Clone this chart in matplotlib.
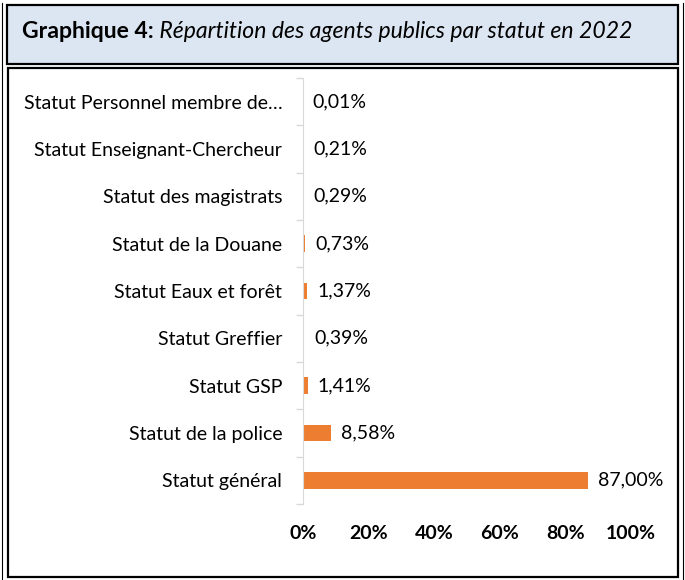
import numpy as np
import matplotlib.pyplot as plt
from matplotlib.patches import Rectangle
from matplotlib.lines import Line2D
from matplotlib.text import Annotation

plt.rcParams['font.family'] = ['Lato', 'DejaVu Sans']

# Données (de haut en bas)
statuts = ['Statut Personnel membre de…', 'Statut Enseignant-Chercheur',
           'Statut des magistrats', 'Statut de la Douane',
           'Statut Eaux et forêt', 'Statut Greffier', 'Statut GSP',
           'Statut de la police', 'Statut général']
valeurs = [0.01, 0.21, 0.29, 0.73, 1.37, 0.39, 1.41, 8.58, 87.00]
graduations = [0, 20, 40, 60, 80, 100]

W, H = 685, 580
fig = plt.figure(figsize=(W / 100, H / 100), dpi=100)

def px(x, y):
    return x / W, 1 - y / H

# Cadre du titre (style tableau Word)
x0, y0 = px(7, 64)
fig.add_artist(Rectangle((x0, y0), (678 - 7) / W, (64 - 5) / H,
                         transform=fig.transFigure, facecolor='#DCE6F2',
                         edgecolor='black', linewidth=1.6, zorder=-2))
x0, y0 = px(8, 577)
fig.add_artist(Rectangle((x0, y0), (678 - 8) / W, (577 - 68) / H,
                         transform=fig.transFigure, facecolor='white',
                         edgecolor='black', linewidth=1.6, zorder=-2))
for xl in [2, 683]:
    fig.add_artist(Line2D([xl / W, xl / W], [0, 1 - 3 / H],
                          transform=fig.transFigure, color='black', linewidth=0.8))

# Titre
t1 = fig.text(22 / W, 1 - 38 / H, 'Graphique 4:', fontsize=16.6, fontweight='bold',
              va='baseline', ha='left')
fig.add_artist(Annotation(' Répartition des agents publics par statut en 2022', xy=(1, 0),
                          xycoords=t1, fontsize=16.6, style='italic',
                          va='bottom', ha='left', annotation_clip=False))

# Graphique
l, b = px(303, 504)
r, t = px(631, 78)
ax = fig.add_axes([l, b, r - l, t - b])
y = np.arange(len(statuts))[::-1]
ax.barh(y, valeurs, height=0.35, color='#ED7D31')
for yi, v in zip(y, valeurs):
    ax.annotate(f'{v:.2f}%'.replace('.', ','), xy=(v, yi), xytext=(7, 0),
                textcoords='offset points', va='center', ha='left', fontsize=14)

ax.set_xlim(0, 100)
ax.set_ylim(-0.5, len(statuts) - 0.5)
ax.set_yticks(y)
ax.set_yticklabels(statuts, fontsize=14)
ax.set_yticks(np.arange(-0.5, len(statuts)), minor=True)
ax.tick_params(axis='y', which='major', length=0, pad=15)
ax.tick_params(axis='y', which='minor', length=5, color='#D9D9D9', width=1)
ax.set_xticks(graduations)
ax.set_xticklabels([f'{g}%' for g in graduations], fontsize=14, fontweight='bold')
ax.tick_params(axis='x', length=0, pad=15)
for s in ['top', 'right', 'bottom']:
    ax.spines[s].set_visible(False)
ax.spines['left'].set_color('#D9D9D9')
ax.set_facecolor('none')

fig.savefig('out.png', dpi=100)
